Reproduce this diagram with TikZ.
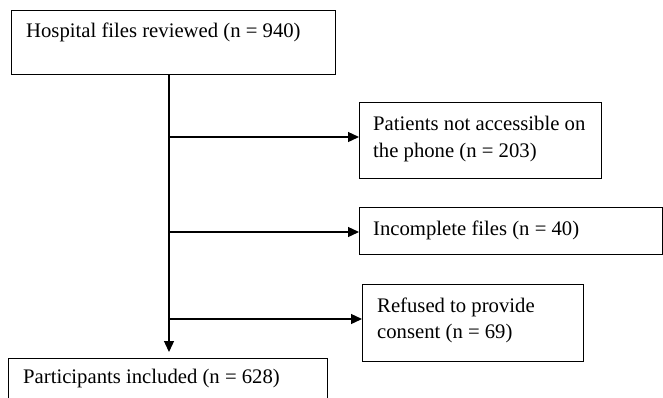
\documentclass[tikz,border=0pt]{standalone}
\usepackage{fontspec}
\setmainfont{Liberation Serif}
\usetikzlibrary{arrows.meta}
\begin{document}
\begin{tikzpicture}[x=1pt,y=-1pt,
  box/.style={draw, line width=1.3pt, inner sep=0pt, anchor=north west},
  lbl/.style={anchor=base west, inner sep=0pt, font=\fontsize{20.7}{27}\selectfont},
  arr/.style={line width=1.3pt, -{Triangle[length=11pt,width=10pt]}}]
\useasboundingbox (0,0) rectangle (663,397);
\clip (0,0) rectangle (663,397);
\fill[white] (0,0) rectangle (663,397);
% boxes
\node[box, minimum width=324pt, minimum height=64pt] (top) at (11,10) {};
\node[box, minimum width=242pt, minimum height=76pt] (b1) at (359,102) {};
\node[box, minimum width=303pt, minimum height=47pt] (b2) at (359,207) {};
\node[box, minimum width=221pt, minimum height=77pt] (b3) at (362,284) {};
\node[box, minimum width=319pt, minimum height=60pt] (bot) at (8,358) {};
% texts
\node[lbl] (t0) at (26,37) {Hospital files reviewed (n = 940)};
\node[lbl] (t1a) at (373,130) {Patients not accessible on};
\node[lbl] (t1b) at (373,157) {the phone (n = 203)};
\node[lbl] (t2) at (373,235) {Incomplete files (n = 40)};
\node[lbl] (t3a) at (377,312) {Refused to provide};
\node[lbl] (t3b) at (377,338) {consent (n = 69)};
\node[lbl] (t4) at (23,383) {Participants included (n = 628)};
% connectors
\coordinate (s) at (169,74);
\coordinate (j1) at (169,137);
\coordinate (j2) at (169,232);
\coordinate (j3) at (169,319);
\coordinate (e) at (169,352);
\draw[arr] (s) -- (e);
\draw[arr] (j1) -- (j1 -| b1.west);
\draw[arr] (j2) -- (j2 -| b2.west);
\draw[arr] (j3) -- (j3 -| b3.west);
\end{tikzpicture}
\end{document}
